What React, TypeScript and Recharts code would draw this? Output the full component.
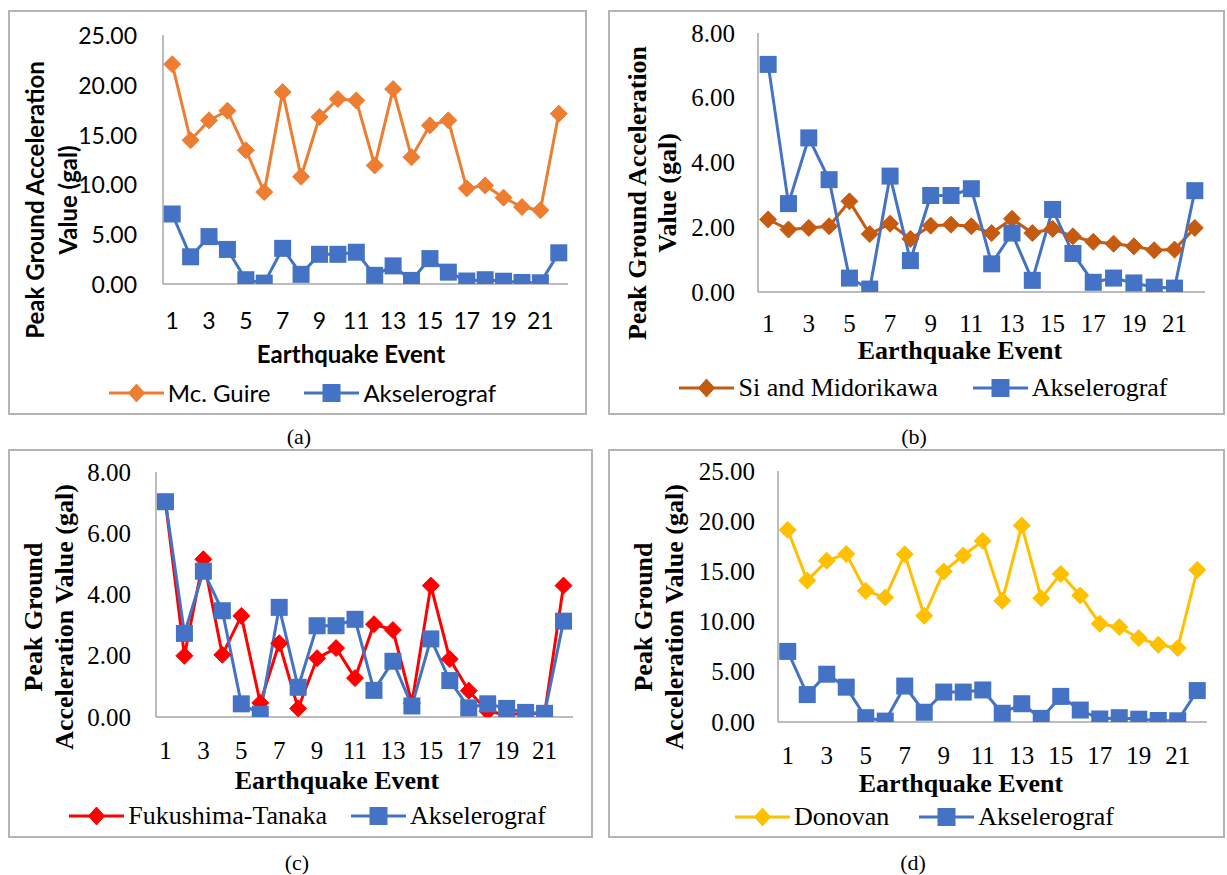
import React from 'react';
import { LineChart, Line, XAxis, YAxis, Legend, Label } from 'recharts';

// ---------- data ----------
const events = [1, 2, 3, 4, 5, 6, 7, 8, 9, 10, 11, 12, 13, 14, 15, 16, 17, 18, 19, 20, 21, 22];
const xTickLabels = [1, 3, 5, 7, 9, 11, 13, 15, 17, 19, 21];
const akselerograf = [7.03, 2.73, 4.76, 3.47, 0.43, 0.09, 3.58, 0.97, 2.98, 2.98, 3.19, 0.87, 1.82, 0.36, 2.55, 1.19, 0.3, 0.43, 0.28, 0.15, 0.12, 3.13];
const mcGuire = [22.07, 14.43, 16.43, 17.4, 13.43, 9.23, 19.27, 10.77, 16.77, 18.57, 18.43, 11.9, 19.57, 12.73, 15.93, 16.43, 9.6, 9.9, 8.67, 7.73, 7.4, 17.1];
const siMidorikawa = [2.24, 1.93, 1.98, 2.03, 2.8, 1.79, 2.11, 1.64, 2.05, 2.08, 2.03, 1.82, 2.26, 1.82, 1.95, 1.72, 1.55, 1.49, 1.41, 1.29, 1.31, 1.98];
const fukushimaTanaka = [7.02, 2.0, 5.15, 2.03, 3.3, 0.46, 2.41, 0.28, 1.92, 2.25, 1.27, 3.03, 2.84, 0.45, 4.29, 1.89, 0.86, 0.18, 0.08, 0.12, 0.1, 4.29];
const donovan = [19.13, 14.09, 16.05, 16.74, 13.06, 12.4, 16.71, 10.58, 14.99, 16.58, 18.04, 12.07, 19.56, 12.33, 14.75, 12.6, 9.78, 9.45, 8.36, 7.69, 7.36, 15.15];
const yTicks25 = [0, 5, 10, 15, 20, 25];
const yTicks8 = [0, 2, 4, 6, 8];
const akselName = 'Akselerograf';
const xTitle = 'Earthquake Event';

// ---------- styling ----------
const BLUE = '#4472C4';
const AXIS = '#a6a6a6';
const SANS = 'Lato, Carlito, Calibri, sans-serif';
const SERIF = '"Liberation Serif", "Times New Roman", serif';

type Panel = {
  left: number; top: number; width: number; height: number;
  font: string; tickSize: number; titleSize: number; legendSize: number;
  margin: { top: number; right: number; bottom: number; left: number };
  yAxisWidth: number; xAxisHeight: number;
  yTicks: number[]; yMax: number;
  yTickGap: number; xTickDy: number;
  yLabelLines: string[]; yLabelXs: number[]; yLabelY: number;
  titleX: number; titleY: number; legendY: number; legendShift: number; legendGap: number;
  modelName: string; modelColor: string; modelValues: number[];
  caption: string; captionX: number; captionY: number;
};

const panels: Panel[] = [
  {
    left: 8, top: 10, width: 579, height: 405, font: SANS, tickSize: 23, titleSize: 24, legendSize: 24,
    margin: { top: 25, right: 19, bottom: 0, left: 0 }, yAxisWidth: 155, xAxisHeight: 131,
    yTicks: yTicks25, yMax: 25, yTickGap: 26, xTickDy: 36,
    yLabelLines: ['Peak Ground Acceleration', 'Value (gal)'], yLabelXs: [26, 59], yLabelY: 190,
    titleX: 343, titleY: 343, legendY: 383, legendShift: 10, legendGap: 34,
    modelName: 'Mc. Guire', modelColor: '#ED7D31', modelValues: mcGuire,
    caption: '(a)', captionX: 299, captionY: 437,
  },
  {
    left: 608, top: 10, width: 617, height: 405, font: SERIF, tickSize: 25, titleSize: 26, legendSize: 26,
    margin: { top: 23, right: 20, bottom: 0, left: 0 }, yAxisWidth: 150, xAxisHeight: 123,
    yTicks: yTicks8, yMax: 8, yTickGap: 23, xTickDy: 31,
    yLabelLines: ['Peak Ground Acceleration', 'Value (gal)'], yLabelXs: [29, 59], yLabelY: 183,
    titleX: 352, titleY: 340, legendY: 378, legendShift: 14, legendGap: 35,
    modelName: 'Si and Midorikawa', modelColor: '#C55A11', modelValues: siMidorikawa,
    caption: '(b)', captionX: 914, captionY: 437,
  },
  {
    left: 8, top: 449, width: 585, height: 389, font: SERIF, tickSize: 25, titleSize: 26, legendSize: 26,
    margin: { top: 23, right: 20, bottom: 0, left: 0 }, yAxisWidth: 148, xAxisHeight: 121,
    yTicks: yTicks8, yMax: 8, yTickGap: 25, xTickDy: 33,
    yLabelLines: ['Peak Ground', 'Acceleration Value (gal)'], yLabelXs: [25, 56], yLabelY: 168,
    titleX: 329, titleY: 331, legendY: 367, legendShift: 14, legendGap: 24,
    modelName: 'Fukushima-Tanaka', modelColor: '#FF0000', modelValues: fukushimaTanaka,
    caption: '(c)', captionX: 297, captionY: 863,
  },
  {
    left: 608, top: 449, width: 617, height: 389, font: SERIF, tickSize: 25, titleSize: 26, legendSize: 26,
    margin: { top: 22, right: 18, bottom: 0, left: 0 }, yAxisWidth: 170, xAxisHeight: 116,
    yTicks: yTicks25, yMax: 25, yTickGap: 23, xTickDy: 33,
    yLabelLines: ['Peak Ground', 'Acceleration Value (gal)'], yLabelXs: [35, 66], yLabelY: 168,
    titleX: 353, titleY: 334, legendY: 368, legendShift: 16, legendGap: 30,
    modelName: 'Donovan', modelColor: '#FFC000', modelValues: donovan,
    caption: '(d)', captionX: 913, captionY: 863,
  },
];

const Diamond = ({ cx, cy, color, w = 8.5, h = 8.5 }: any) => (
  <polygon points={`${cx},${cy - h} ${cx + w},${cy} ${cx},${cy + h} ${cx - w},${cy}`} fill={color} stroke={color} strokeWidth={1} />
);
const Square = ({ cx, cy, color, s = 8.5 }: any) => (
  <rect x={cx - s} y={cy - s} width={2 * s} height={2 * s} fill={color} />
);

function ChartPanel({ p }: { p: Panel }) {
  const data = events.map((e, i) => ({ event: e, model: p.modelValues[i], aksel: akselerograf[i] }));
  const xTick = (props: any) => {
    const v = props.payload.value;
    if (!xTickLabels.includes(v)) return <g />;
    return (
      <text x={props.x} y={props.y + p.xTickDy} textAnchor="middle" dominantBaseline="central"
        fontFamily={p.font} fontSize={p.tickSize} fill="#000">{v}</text>
    );
  };
  const yTick = (props: any) => (
    <text x={props.x - p.yTickGap} y={props.y} textAnchor="end" dominantBaseline="central"
      fontFamily={p.font} fontSize={p.tickSize} fill="#000">{Number(props.payload.value).toFixed(2)}</text>
  );
  const yLabel = () => (
    <g>
      {p.yLabelLines.map((t, i) => (
        <text key={i} x={p.yLabelXs[i]} y={p.yLabelY} transform={`rotate(-90, ${p.yLabelXs[i]}, ${p.yLabelY})`}
          textAnchor="middle" dominantBaseline="central" fontFamily={p.font} fontWeight="bold"
          fontSize={p.titleSize} fill="#000">{t}</text>
      ))}
    </g>
  );
  const xLabel = () => (
    <text x={p.titleX} y={p.titleY} textAnchor="middle" dominantBaseline="central" fontFamily={p.font}
      fontWeight="bold" fontSize={p.titleSize} fill="#000">{xTitle}</text>
  );
  const legendContent = (props: any) => {
    const payload = [...(props.payload || [])].sort((a: any, b: any) =>
      (a.dataKey === 'model' ? 0 : 1) - (b.dataKey === 'model' ? 0 : 1));
    return (
      <div style={{ display: 'flex', justifyContent: 'center', alignItems: 'center', height: 34, gap: p.legendGap,
        paddingLeft: p.legendShift, fontFamily: p.font, fontSize: p.legendSize, color: '#000' }}>
        {payload.map((entry: any, i: number) => (
          <div key={i} style={{ display: 'flex', alignItems: 'center' }}>
            <svg width={55} height={22} style={{ display: 'block' }}>
              <line x1={0} y1={11} x2={55} y2={11} stroke={entry.color} strokeWidth={3} />
              {entry.dataKey === 'aksel'
                ? <Square cx={27.5} cy={11} color={entry.color} s={9} />
                : <Diamond cx={27.5} cy={11} color={entry.color} w={8} h={9} />}
            </svg>
            <span style={{ marginLeft: 4, lineHeight: 1, whiteSpace: 'nowrap' }}>{entry.value}</span>
          </div>
        ))}
      </div>
    );
  };
  return (
    <div style={{ position: 'absolute', left: p.left, top: p.top, width: p.width, height: p.height }}>
      <LineChart width={p.width} height={p.height} data={data} margin={p.margin}>
        <XAxis dataKey="event" type="category" scale="band" interval={0} tick={xTick} tickLine={false} tickSize={0} tickMargin={0}
          height={p.xAxisHeight} axisLine={{ stroke: AXIS, strokeWidth: 1.5 }}>
          <Label content={xLabel} />
        </XAxis>
        <YAxis domain={[0, p.yMax]} ticks={p.yTicks} type="number" width={p.yAxisWidth} tick={yTick}
          tickLine={false} tickSize={0} tickMargin={0} axisLine={{ stroke: AXIS, strokeWidth: 1.5 }} allowDataOverflow>
          <Label content={yLabel} />
        </YAxis>
        <Legend layout="horizontal" verticalAlign="middle" align="center" content={legendContent}
          wrapperStyle={{ position: 'absolute', left: 0, top: p.legendY - 17, width: p.width, height: 34 }} />
        <Line dataKey="model" name={p.modelName} stroke={p.modelColor} strokeWidth={3} isAnimationActive={false}
          activeDot={false}
          dot={(d: any) => <Diamond key={`m-${d.index}`} cx={d.cx} cy={d.cy} color={p.modelColor} />} />
        <Line dataKey="aksel" name={akselName} stroke={BLUE} strokeWidth={3} isAnimationActive={false}
          activeDot={false}
          dot={(d: any) => <Square key={`a-${d.index}`} cx={d.cx} cy={d.cy} color={BLUE} />} />
      </LineChart>
      <div style={{ position: 'absolute', left: 0, top: 0, width: p.width, height: p.height, boxSizing: 'border-box',
        border: '2px solid #b4b4b4', pointerEvents: 'none' }} />
    </div>
  );
}

export default function App() {
  return (
    <div style={{ position: 'absolute', left: 0, top: 0, width: 1227, height: 875, background: '#fff', overflow: 'hidden' }}>
      {panels.map((p, i) => (
        <React.Fragment key={i}>
          <ChartPanel p={p} />
          <div style={{ position: 'absolute', left: p.captionX - 30, top: p.captionY - 14, width: 60, height: 28,
            textAlign: 'center', lineHeight: '28px', fontFamily: SERIF, fontSize: 22, color: '#000' }}>{p.caption}</div>
        </React.Fragment>
      ))}
    </div>
  );
}
